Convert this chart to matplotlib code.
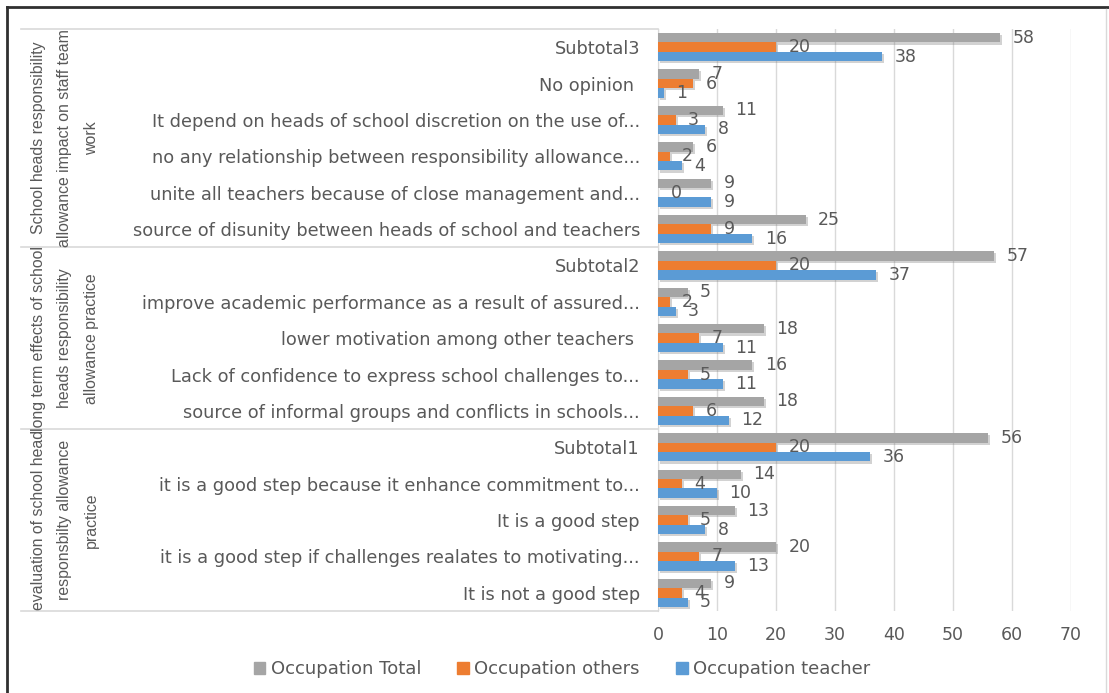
import matplotlib.pyplot as plt
import matplotlib.patheffects as pe
from matplotlib.lines import Line2D
from matplotlib.patches import Patch
import numpy as np

# answers listed bottom to top
categories = [
    "It is not a good step",
    "it is a good step if challenges realates to motivating...",
    "It is a good step",
    "it is a good step because it enhance commitment to...",
    "Subtotal1",
    "source of informal groups and conflicts in schools...",
    "Lack of confidence to express school challenges to...",
    "lower motivation among other teachers ",
    "improve academic performance as a result of assured...",
    "Subtotal2",
    "source of disunity between heads of school and teachers",
    "unite all teachers because of close management and...",
    "no any relationship between responsibility allowance...",
    "It depend on heads of school discretion on the use of...",
    "No opinion ",
    "Subtotal3",
]
total = [9, 20, 13, 14, 56, 18, 16, 18, 5, 57, 25, 9, 6, 11, 7, 58]
others = [4, 7, 5, 4, 20, 6, 5, 7, 2, 20, 9, 0, 2, 3, 6, 20]
teacher = [5, 13, 8, 10, 36, 12, 11, 11, 3, 37, 16, 9, 4, 8, 1, 38]

groups = [
    "evaluation of school head\nresponsbilty allowance\npractice",
    "long term effects of school\nheads responsibility\nallowance practice",
    "School heads responsibility\nallowance impact on staff team\nwork",
]
group_sizes = [5, 5, 6]

c_total = "#A5A5A5"
c_others = "#ED7D31"
c_teacher = "#5B9BD5"
txt = "#595959"
line_c = "#D9D9D9"

W, H = 1109, 693
fig = plt.figure(figsize=(W / 100, H / 100), dpi=100)
ax = fig.add_axes([658 / W, 1 - 611 / H, (1071 - 658) / W, (611 - 29) / H])

y = np.arange(len(categories))
h = 0.26
shadow = [pe.SimplePatchShadow(offset=(1.5, -1.5), shadow_rgbFace="#808080", alpha=0.35), pe.Normal()]
series = [(total, c_total, h, "Occupation Total"),
          (others, c_others, 0, "Occupation others"),
          (teacher, c_teacher, -h, "Occupation teacher")]
for vals, col, off, name in series:
    bars = ax.barh(y + off, vals, height=h, color=col, label=name, zorder=3)
    for b in bars:
        b.set_path_effects(shadow)
    for yi, v in zip(y, vals):
        ax.text(v + 2.1, yi + off, str(v), va="center", ha="left",
                fontsize=12.5, color=txt, zorder=4)

ax.set_xlim(0, 70)
ax.set_ylim(-0.5, len(categories) - 0.5)
ax.set_xticks(range(0, 71, 10))
ax.set_yticks(y)
ax.set_yticklabels(categories, fontsize=12.8, color=txt)
ax.tick_params(axis="both", length=0, colors=txt)
ax.tick_params(axis="y", pad=13, labelsize=12.8)
ax.tick_params(axis="x", pad=11, labelsize=12.5)
ax.grid(axis="x", color=line_c, linewidth=1, zorder=0)
for s in ["top", "right", "bottom"]:
    ax.spines[s].set_visible(False)
ax.spines["left"].set_color(line_c)

# group separators and rotated group titles on the left
left_frac = -(658 - 21) / (1071 - 658)
tr = ax.get_yaxis_transform()
bounds = [-0.5]
for n in group_sizes:
    bounds.append(bounds[-1] + n)
for b in bounds:
    ax.plot([left_frac, 0], [b, b], transform=tr, color=line_c, lw=1.2, clip_on=False)
for g, lo, hi in zip(groups, bounds[:-1], bounds[1:]):
    ax.text(left_frac + (65 - 21) / (1071 - 658), (lo + hi) / 2, g, transform=tr,
            rotation=90, ha="center", va="center", multialignment="center",
            fontsize=11.4, color=txt, linespacing=1.95,
            family="Liberation Sans")

handles = [Patch(color=c_total), Patch(color=c_others), Patch(color=c_teacher)]
fig.legend(handles, ["Occupation Total", "Occupation others", "Occupation teacher"],
           loc="center", bbox_to_anchor=(562 / W, 1 - 669 / H), ncol=3, frameon=False,
           fontsize=13, labelcolor=txt, handlelength=0.65, handleheight=0.65,
           handletextpad=0.3, columnspacing=2.0)

# chart border
fig.add_artist(Line2D([7 / W, 7 / W], [0, 1 - 7 / H], color="#303030", lw=2))
fig.add_artist(Line2D([7 / W, 1], [1 - 7 / H, 1 - 7 / H], color="#303030", lw=2))
fig.add_artist(Line2D([1106 / W, 1106 / W], [0, 1 - 9 / H], color=line_c, lw=1))

fig.savefig("out.png", dpi=100)
